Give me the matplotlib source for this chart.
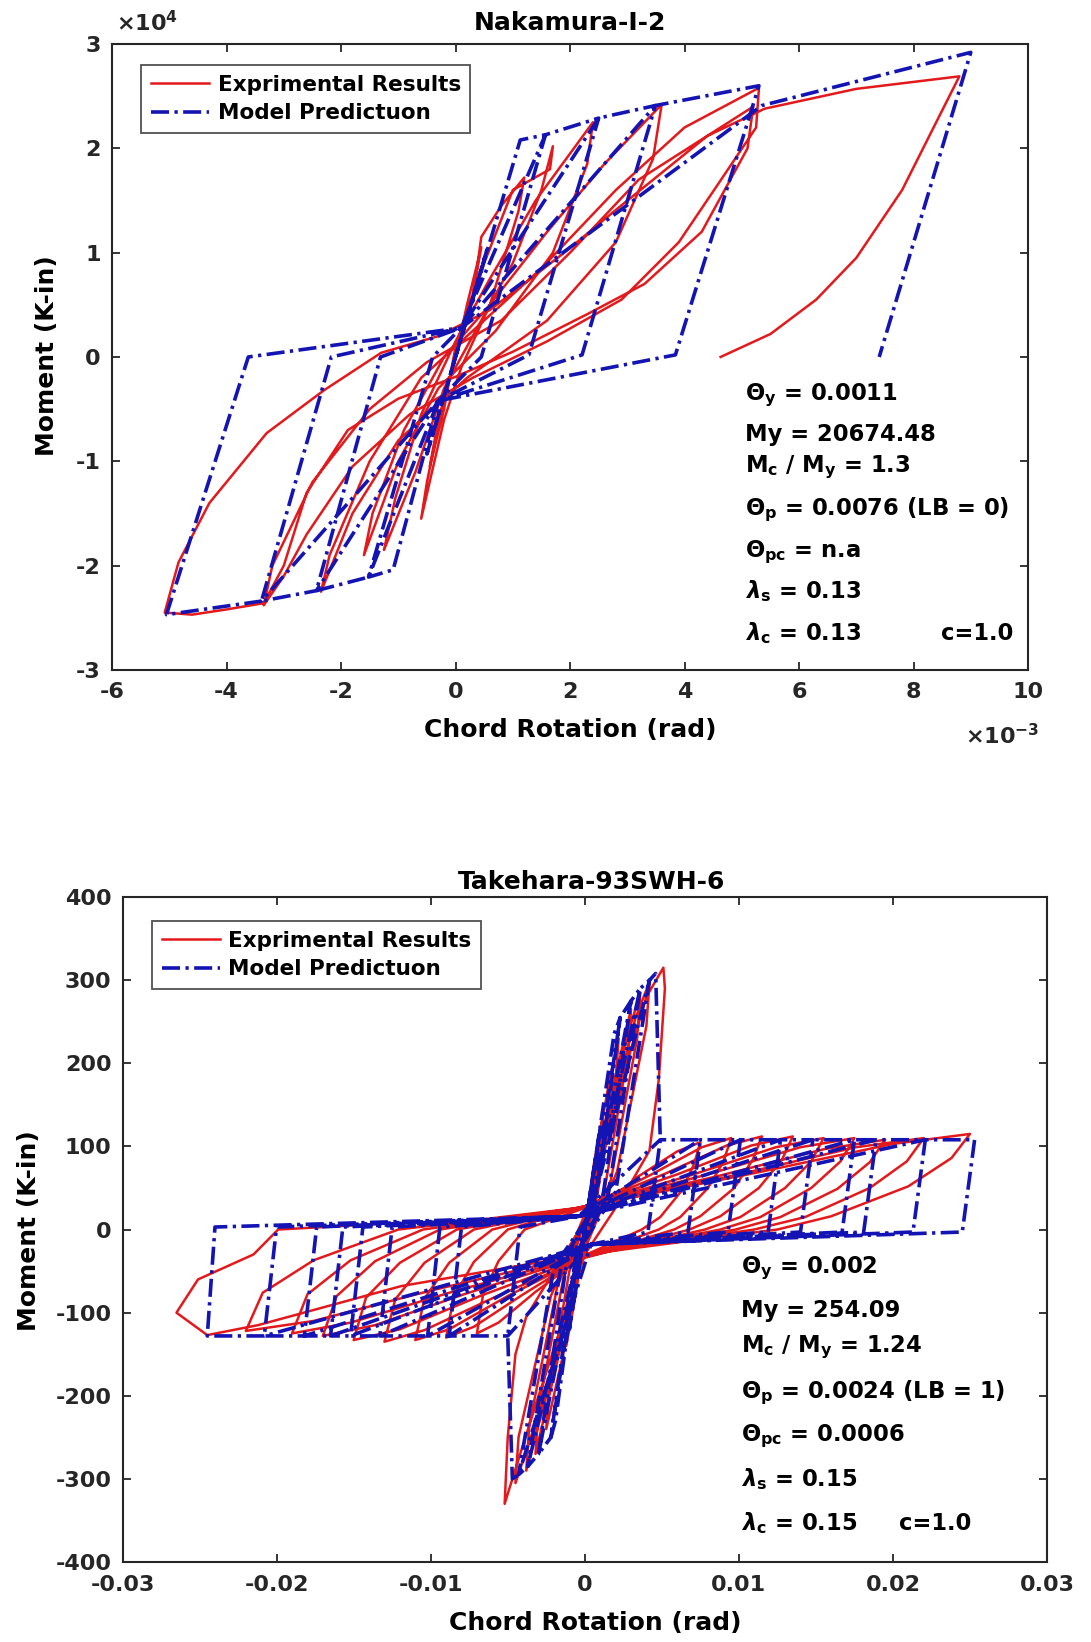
import numpy as np
import matplotlib
matplotlib.use("Agg")
import matplotlib.pyplot as plt

plt.rcParams['font.family'] = ['DejaVu Sans']
plt.rcParams['font.weight'] = 'bold'
plt.rcParams['axes.unicode_minus'] = False
plt.rcParams['mathtext.fontset'] = 'dejavusans'

# ---------------- data ----------------
top_title = "Nakamura-I-2"
bot_title = "Takehara-93SWH-6"
series_labels = ["Exprimental Results", "Model Predictuon"]

# top panel: x in 1e-3 rad, y in 1e4 K-in
top_xticks = [-6, -4, -2, 0, 2, 4, 6, 8, 10]
top_yticks = [-3, -2, -1, 0, 1, 2, 3]
top_exp_pts = np.array([
    (0, 0), (0.2, 0.5), (0.45, 1.05), (0.3, 0.6), (0.0, 0.1), (-0.2, -0.5), (-0.45, -1.05), (-0.3, -0.6), (0.0, 0.0),
    (0.3, 0.55), (0.45, 1.15), (0.8, 1.45), (1.2, 1.72), (1.1, 1.4), (0.6, 0.5), (0.1, -0.1), (-0.2, -0.6), (-0.6, -1.55),
    (-0.5, -1.2), (-0.2, -0.4), (0.1, 0.2),
    (0.5, 0.9), (1.0, 1.6), (1.65, 1.8), (1.7, 2.02), (1.5, 1.6), (1.0, 0.9), (0.3, 0.2), (-0.2, -0.3), (-0.7, -1.1),
    (-1.25, -1.85), (-1.05, -1.35), (-0.6, -0.55), (0.0, 0.15),
    (0.6, 0.75), (1.4, 1.5), (2.4, 2.25), (2.3, 1.85), (1.7, 1.0), (0.7, 0.25), (-0.3, -0.3), (-1.0, -1.0), (-1.6, -1.9),
    (-1.45, -1.5), (-0.9, -0.7), (-0.2, 0.0),
    (0.6, 0.5), (1.6, 1.2), (2.6, 1.85), (3.6, 2.42), (3.45, 1.9), (2.8, 1.1), (1.6, 0.35), (0.2, -0.2), (-1.0, -0.8),
    (-1.8, -1.5), (-2.35, -2.25), (-2.2, -1.9), (-1.5, -1.0), (-0.6, -0.2),
    (0.5, 0.35), (1.5, 0.85), (2.8, 1.6), (4.0, 2.2), (5.3, 2.58), (5.25, 2.2), (4.7, 1.75), (3.9, 1.1), (2.9, 0.55),
    (1.6, 0.15), (0.3, -0.2), (-0.8, -0.55), (-1.8, -1.05), (-2.6, -1.7), (-3.0, -2.1), (-3.35, -2.38), (-3.2, -2.0),
    (-2.5, -1.2), (-1.5, -0.5), (-0.5, -0.05),
    (0.8, 0.35), (2.0, 1.0), (3.2, 1.7), (4.4, 2.12), (5.2, 2.4), (5.1, 2.0), (4.3, 1.2), (3.3, 0.7), (2.3, 0.41),
    (1.0, 0.05), (0.0, -0.19), (-1.0, -0.4), (-1.88, -0.7), (-2.6, -1.3), (-3.0, -2.0), (-3.35, -2.36), (-4.0, -2.42),
    (-4.6, -2.47), (-5.08, -2.45),
    (-4.84, -1.97), (-4.3, -1.4), (-3.3, -0.73), (-2.3, -0.32), (-1.3, 0.04), (-0.3, 0.2), (0.6, 0.45), (1.9, 1.0),
    (2.8, 1.41), (4.4, 2.12), (5.4, 2.38), (7.0, 2.57), (8.8, 2.69),
    (8.35, 2.2), (7.8, 1.6), (7.0, 0.95), (6.3, 0.55), (5.5, 0.22), (4.63, 0.0)])
top_model_pts = np.array([
    (0, 0), (0.55, 1.03), (-0.5, -0.93), (0.0, 0.0),
    (1.13, 2.08), (1.57, 2.13), (0.45, 0.0), (-0.3, -0.42), (-1.09, -2.04), (-1.52, -2.11),
    (-0.4, 0.0), (0.1, 0.28), (1.57, 2.13), (2.5, 2.29), (1.28, 0.02), (-0.3, -0.42), (-1.52, -2.11), (-2.43, -2.24),
    (-1.31, 0.0), (0.1, 0.28), (2.5, 2.29), (3.49, 2.41), (2.21, 0.02), (-0.3, -0.42), (-2.43, -2.24), (-3.39, -2.34),
    (-2.17, 0.0), (0.1, 0.28), (3.49, 2.41), (5.3, 2.6), (3.84, 0.02), (-0.3, -0.42), (-3.39, -2.34), (-5.05, -2.47),
    (-3.62, 0.0), (0.1, 0.28), (5.35, 2.41), (9.0, 2.92), (7.4, 0.0)])
top_params = [r"$\Theta_\mathbf{y}$ = 0.0011", "My = 20674.48", r"$\mathbf{M_c}$ / $\mathbf{M_y}$ = 1.3",
              r"$\Theta_\mathbf{p}$ = 0.0076 (LB = 0)", r"$\Theta_\mathbf{pc}$ = n.a",
              r"$\lambda_\mathbf{s}$ = 0.13", r"$\lambda_\mathbf{c}$ = 0.13"]
top_param_y = [-0.41, -0.81, -1.10, -1.52, -1.92, -2.31, -2.71]

# bottom panel: x in rad, y in K-in
bot_xticks = [-0.03, -0.02, -0.01, 0, 0.01, 0.02, 0.03]
bot_xticklabels = ["-0.03", "-0.02", "-0.01", "0", "0.01", "0.02", "0.03"]
bot_yticks = [-400, -300, -200, -100, 0, 100, 200, 300, 400]
bot_exp_pts = np.array([
    (0, 0), (0.0006, 80), (0.0012, 140), (0.0009, 90), (0.0, -5), (-0.0006, -80), (-0.0012, -140), (-0.0009, -90), (0.0, 5),
    (0.0008, 95), (0.0016, 180), (0.0022, 230), (0.002, 180), (0.0008, 40), (-0.0004, -40), (-0.0014, -150),
    (-0.0025, -240), (-0.0023, -190), (-0.001, -50), (0.0003, 30),
    (0.0012, 120), (0.0022, 200), (0.003, 265), (0.0028, 210), (0.0013, 50), (-0.0005, -45), (-0.0018, -160),
    (-0.0032, -270), (-0.003, -215), (-0.0014, -60), (0.0004, 35),
    (0.0016, 140), (0.0028, 235), (0.0036, 285), (0.0034, 230), (0.0017, 60), (-0.0006, -50), (-0.0022, -180),
    (-0.0038, -290), (-0.0036, -235), (-0.0018, -70), (0.0005, 40),
    (0.002, 160), (0.0033, 255), (0.0042, 298), (0.004, 245), (0.0021, 70), (-0.0007, -55), (-0.0026, -200),
    (-0.0045, -305), (-0.0043, -250), (-0.0022, -80), (0.0006, 45),
    (0.0025, 185), (0.004, 280), (0.0051, 315), (0.0052, 290), (0.0048, 180), (0.0042, 95), (0.0025, 40), (0.0, -30),
    (-0.003, -200), (-0.0047, -300), (-0.0052, -330), (-0.005, -250), (-0.0045, -150), (-0.0038, -105), (-0.002, -50),
    (0.0, 10),
    (0.0034, 63), (0.006, 94), (0.0075, 105), (0.0071, 79), (0.0063, 47), (0.0049, 15), (0.0037, 0), (0.0, -31),
    (-0.0032, -75), (-0.0056, -112), (-0.007, -125), (-0.0066, -78), (-0.0056, -38), (-0.0039, 0), (0.0, 26),
    (0.0043, 66), (0.0076, 99), (0.0095, 110), (0.009, 82), (0.008, 50), (0.0062, 15), (0.0048, 0), (0.0, -32),
    (-0.004, -78), (-0.0072, -117), (-0.009, -130), (-0.0085, -81), (-0.0072, -39), (-0.005, 0), (0.0, 28),
    (0.0052, 67), (0.0092, 101), (0.0115, 112), (0.0109, 84), (0.0097, 50), (0.0075, 16), (0.0058, 0), (0.0, -33),
    (-0.005, -80), (-0.0088, -120), (-0.011, -133), (-0.0104, -83), (-0.0088, -40), (-0.006, 0), (0.0, 28),
    (0.0061, 67), (0.0108, 101), (0.0135, 112), (0.0128, 84), (0.0113, 50), (0.0088, 16), (0.0068, 0), (0.0, -34),
    (-0.0058, -81), (-0.0104, -121), (-0.013, -135), (-0.0123, -84), (-0.0104, -40), (-0.0072, 0), (0.0, 28),
    (0.007, 66), (0.0124, 99), (0.0155, 110), (0.0147, 82), (0.013, 50), (0.0101, 15), (0.0078, 0), (0.0, -33),
    (-0.0068, -80), (-0.012, -120), (-0.015, -133), (-0.0142, -82), (-0.012, -40), (-0.0083, 0), (0.0, 27),
    (0.0079, 66), (0.014, 99), (0.0175, 110), (0.0166, 82), (0.0147, 50), (0.0114, 15), (0.0088, 0), (0.0, -32),
    (-0.0077, -77), (-0.0136, -115), (-0.017, -128), (-0.0161, -80), (-0.0136, -38), (-0.0094, 0), (0.0, 27),
    (0.0088, 65), (0.0156, 97), (0.0195, 108), (0.0185, 81), (0.0164, 49), (0.0127, 15), (0.0098, 0), (0.0, -31),
    (-0.0086, -75), (-0.0152, -112), (-0.019, -125), (-0.018, -78), (-0.0152, -37), (-0.0105, 0), (0.0, 27),
    (0.0099, 66), (0.0176, 99), (0.022, 110), (0.0209, 82), (0.0185, 50), (0.0143, 15), (0.011, 0), (0.0, -30),
    (-0.0099, -73), (-0.0176, -110), (-0.022, -122), (-0.0209, -76), (-0.0176, -37), (-0.0121, 0), (0.0, 27),
    (0.0113, 69), (0.02, 103), (0.025, 115), (0.0238, 86), (0.021, 52), (0.016, 16), (0.0125, 0), (0.0, -30),
    (-0.0119, -68), (-0.0212, -115), (-0.0245, -127), (-0.0265, -100), (-0.0251, -60), (-0.0215, -30), (-0.0199, 0),
    (-0.012, 8)])
bot_model_pts = np.array([
    (0, 0), (0.001, 120), (-0.001, -120), (0.0, 0),
    (0.0019, 235), (0.0023, 255), (0.0006, 20), (-0.0004, -25), (-0.0019, -230), (-0.0022, -250), (-0.0005, -20), (0.0004, 20),
    (0.0023, 255), (0.003, 275), (0.0011, 30), (-0.0004, -25), (-0.0022, -250), (-0.003, -270), (-0.0011, -30), (0.0004, 20),
    (0.003, 275), (0.0036, 290), (0.0015, 40), (-0.0004, -25), (-0.003, -270), (-0.0037, -285), (-0.0015, -40), (0.0004, 20),
    (0.0036, 290), (0.0042, 300), (0.002, 45), (-0.0004, -25), (-0.0037, -285), (-0.0043, -295), (-0.002, -45), (0.0004, 20),
    (0.0042, 300), (0.0046, 308), (0.0049, 108), (0.0041, -3), (0.0004, -18), (-0.0043, -295), (-0.0047, -300),
    (-0.005, -128), (-0.0042, 3), (-0.0004, 16),
    (0.0049, 108), (0.0075, 108), (0.0067, -3), (0.0004, -18), (-0.005, -128), (-0.0088, -128), (-0.008, 3), (-0.0004, 16),
    (0.0075, 108), (0.0101, 108), (0.0093, -3), (0.0004, -18), (-0.0088, -128), (-0.0102, -128), (-0.0094, 3), (-0.0004, 16),
    (0.0101, 108), (0.0127, 108), (0.0119, -3), (0.0004, -18), (-0.0102, -128), (-0.0133, -128), (-0.0125, 3), (-0.0004, 16),
    (0.0127, 108), (0.0148, 108), (0.014, -3), (0.0004, -18), (-0.0133, -128), (-0.0152, -128), (-0.0144, 3), (-0.0004, 16),
    (0.0148, 108), (0.0175, 108), (0.0167, -3), (0.0004, -18), (-0.0152, -128), (-0.0165, -128), (-0.0157, 3), (-0.0004, 16),
    (0.0175, 108), (0.0189, 108), (0.0181, -3), (0.0004, -18), (-0.0165, -128), (-0.0182, -128), (-0.0174, 3), (-0.0004, 16),
    (0.0189, 108), (0.0221, 108), (0.0213, -3), (0.0004, -18), (-0.0182, -128), (-0.0208, -128), (-0.02, 3), (-0.0004, 16),
    (0.0221, 108), (0.0253, 108), (0.0245, -3), (0.0004, -18), (-0.0208, -128), (-0.0245, -128), (-0.024, 3), (-0.0004, 16)])
bot_params = [r"$\Theta_\mathbf{y}$ = 0.002", "My = 254.09", r"$\mathbf{M_c}$ / $\mathbf{M_y}$ = 1.24",
              r"$\Theta_\mathbf{p}$ = 0.0024 (LB = 1)", r"$\Theta_\mathbf{pc}$ = 0.0006",
              r"$\lambda_\mathbf{s}$ = 0.15", r"$\lambda_\mathbf{c}$ = 0.15"]
bot_param_y = [-53, -105, -148, -203, -254, -309, -362]

# ---------------- styling ----------------
RED = '#e3191c'
BLUE = '#1414b4'
AX = '#262626'
TICK_FS = 16
LAB_FS = 18
ANN_FS = 16.3
LEG_FS = 15.5
DASHES = (5, 1.5, 0.9, 1.5)

fig = plt.figure(figsize=(10.91, 16.42), dpi=100)
ax1 = fig.add_axes([0.1027, 0.5920, 0.8396, 0.3812])
ax2 = fig.add_axes([0.1123, 0.0487, 0.8474, 0.4050])


def style(ax):
    for s in ax.spines.values():
        s.set_color(AX)
        s.set_linewidth(1.5)
    ax.tick_params(direction='in', top=True, right=True, length=6, width=1.3,
                   colors=AX, labelcolor='#262626', labelsize=TICK_FS)
    ax.tick_params(axis='x', pad=9)
    ax.tick_params(axis='y', pad=8)
    for lab in ax.get_xticklabels() + ax.get_yticklabels():
        lab.set_fontweight('bold')


def draw(ax, exp_pts, mod_pts):
    ax.plot(exp_pts[:, 0], exp_pts[:, 1], color=RED, lw=1.8, solid_joinstyle='round',
            label=series_labels[0])
    ln, = ax.plot(mod_pts[:, 0], mod_pts[:, 1], color=BLUE, lw=2.6, linestyle='-.',
                  label=series_labels[1])
    ln.set_dashes(DASHES)


def legend(ax, anchor):
    leg = ax.legend(loc='upper left', bbox_to_anchor=anchor, borderaxespad=0,
                    prop={'weight': 'bold', 'size': LEG_FS}, frameon=True, fancybox=False,
                    edgecolor='#262626', handlelength=2.7, handletextpad=0.4, labelspacing=0.4,
                    borderpad=0.45)
    leg.get_frame().set_linewidth(1.3)
    return leg


# ---- top panel ----
draw(ax1, top_exp_pts, top_model_pts)
ax1.set_xlim(-6, 10)
ax1.set_ylim(-3, 3)
ax1.set_xticks(top_xticks)
ax1.set_yticks(top_yticks)
ax1.set_xticklabels([str(v) for v in top_xticks])
ax1.set_yticklabels([str(v) for v in top_yticks])
style(ax1)
ax1.set_title(top_title, fontsize=LAB_FS, fontweight='bold', y=1.0335, pad=0, va='center')
ax1.set_xlabel("Chord Rotation (rad)", fontsize=LAB_FS, fontweight='bold', va='center')
ax1.xaxis.set_label_coords(0.5, -0.0958)
ax1.set_ylabel("Moment (K-in)", fontsize=LAB_FS, fontweight='bold', va='center')
ax1.yaxis.set_label_coords(-0.071, 0.502)
ax1.text(0.004, 1.0335, r"$\times$10$^{\mathbf{4}}$", transform=ax1.transAxes, fontsize=TICK_FS,
         fontweight='bold', ha='left', va='center', color=AX)
ax1.text(0.972, -0.105, r"$\times$10$^{\mathbf{-3}}$", transform=ax1.transAxes, fontsize=TICK_FS,
         fontweight='bold', ha='center', va='center', color=AX)
for s, yv in zip(top_params, top_param_y):
    ax1.text(5.06, yv, s, fontsize=ANN_FS, fontweight='bold', ha='left', va='baseline')
ax1.text(9.74, top_param_y[-1], "c=1.0", fontsize=ANN_FS, fontweight='bold', ha='right', va='baseline')
legend(ax1, (0.0317, 0.9665))

# ---- bottom panel ----
draw(ax2, bot_exp_pts, bot_model_pts)
ax2.set_xlim(-0.03, 0.03)
ax2.set_ylim(-400, 400)
ax2.set_xticks(bot_xticks)
ax2.set_xticklabels(bot_xticklabels)
ax2.set_yticks(bot_yticks)
ax2.set_yticklabels([str(v) for v in bot_yticks])
style(ax2)
ax2.set_title(bot_title, fontsize=LAB_FS, fontweight='bold', y=1.0231, pad=0, va='center')
ax2.title.set_x(0.507)
ax2.set_xlabel("Chord Rotation (rad)", fontsize=LAB_FS, fontweight='bold', va='center')
ax2.xaxis.set_label_coords(0.511, -0.0917)
ax2.set_ylabel("Moment (K-in)", fontsize=LAB_FS, fontweight='bold', va='center')
ax2.yaxis.set_label_coords(-0.101, 0.499)
for s, yv in zip(bot_params, bot_param_y):
    ax2.text(0.01017, yv, s, fontsize=ANN_FS, fontweight='bold', ha='left', va='baseline')
ax2.text(0.0204, bot_param_y[-1], "c=1.0", fontsize=ANN_FS, fontweight='bold', ha='left', va='baseline')
legend(ax2, (0.0319, 0.964))

fig.savefig("out.png", dpi=100, facecolor='white')
